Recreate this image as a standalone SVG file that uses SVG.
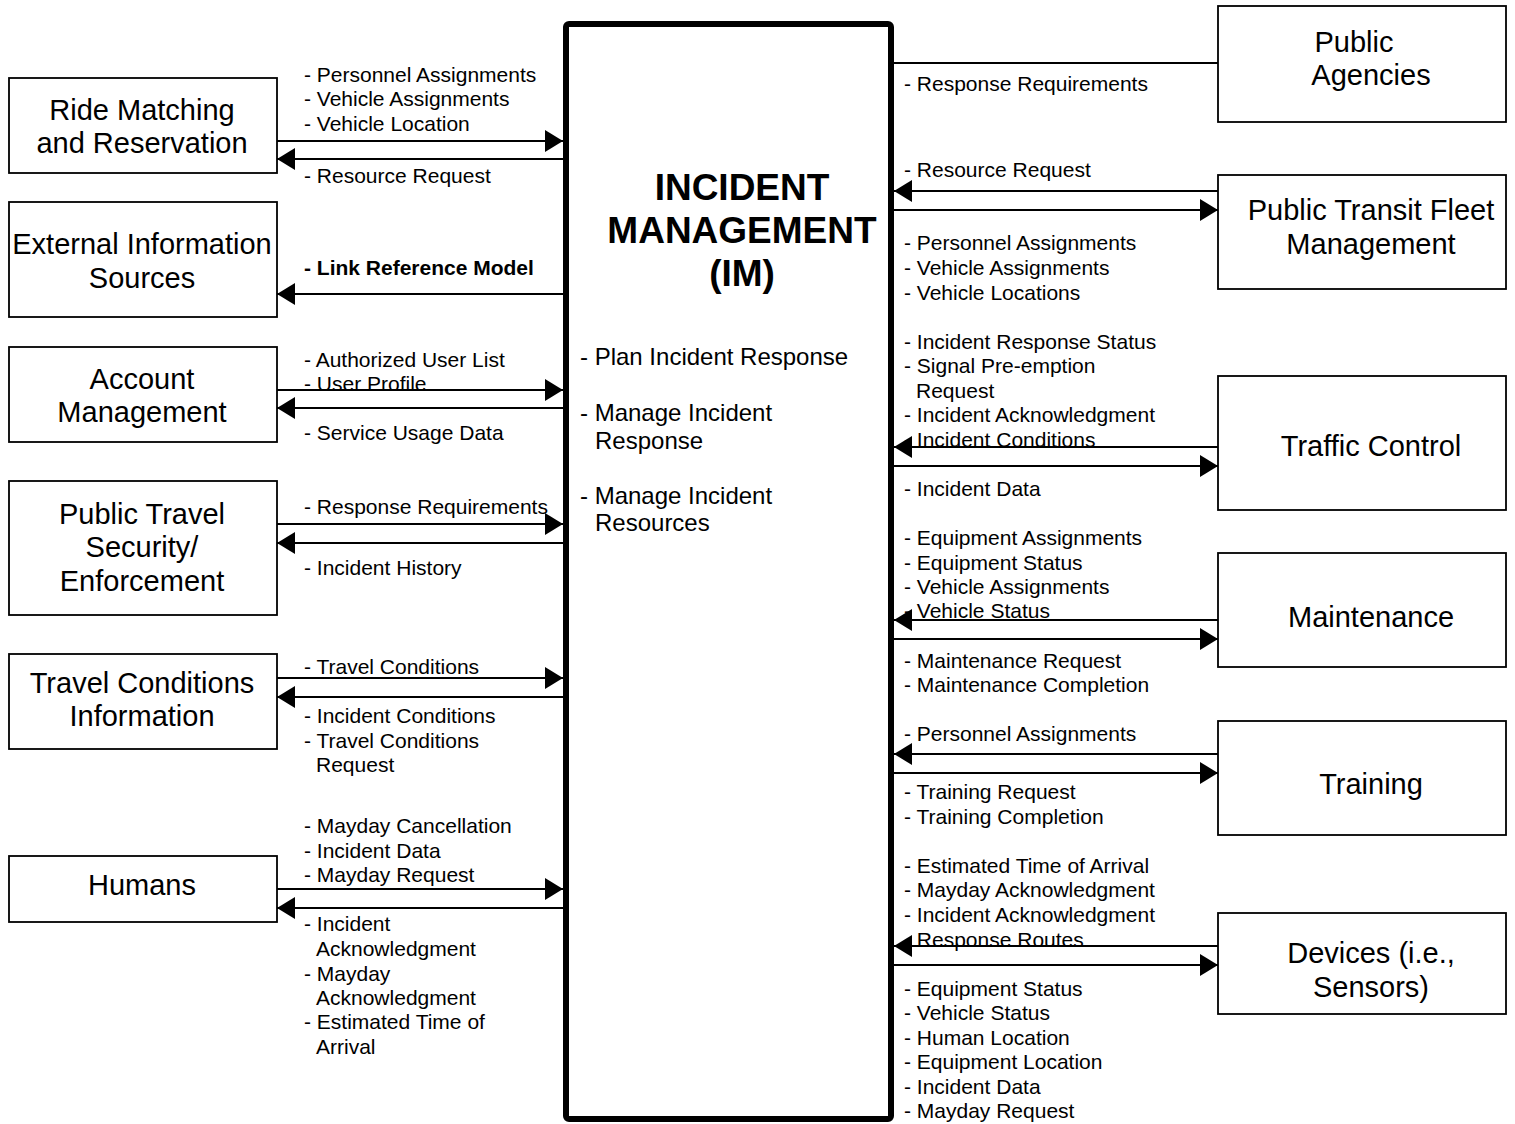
<svg xmlns="http://www.w3.org/2000/svg" width="1515" height="1124" viewBox="0 0 1515 1124">
<style>
.node{fill:#fff;stroke:#000;stroke-width:1.8}
.nt{font-family:"Liberation Sans",Arial,sans-serif;font-size:29px;fill:#000;text-anchor:middle}
.lb{font-family:"Liberation Sans",Arial,sans-serif;font-size:21px;fill:#000}
.b{font-weight:bold}
.c{fill:none;stroke:#000;stroke-width:2}
.title{font-family:"Liberation Sans",Arial,sans-serif;font-size:37px;font-weight:bold;fill:#000;text-anchor:middle}
.fn{font-family:"Liberation Sans",Arial,sans-serif;font-size:24px;fill:#000}
</style>
<defs>
<marker id="ah" markerUnits="userSpaceOnUse" markerWidth="18" markerHeight="22" refX="18" refY="11" orient="auto">
<path d="M0,0 L18,11 L0,22 z" fill="#000"/>
</marker>
</defs>
<rect width="1515" height="1124" fill="#fff"/>

<g id="im">
<rect x="566" y="24" width="325" height="1095" rx="3" fill="#fff" stroke="#000" stroke-width="6"/>
<text class="title" x="742" y="200">INCIDENT</text>
<text class="title" x="742" y="243">MANAGEMENT</text>
<text class="title" x="742" y="286">(IM)</text>
<text class="fn" x="580" y="365">- Plan Incident Response</text>
<text class="fn" x="580" y="421">- Manage Incident<tspan x="595" y="449">Response</tspan></text>
<text class="fn" x="580" y="504">- Manage Incident<tspan x="595" y="531">Resources</tspan></text>
</g>

<g id="ride-matching"><rect class="node" x="9" y="78" width="268" height="95"/><text class="nt" x="142" y="120">Ride Matching</text><text class="nt" x="142" y="153">and Reservation</text></g>
<g id="external-info"><rect class="node" x="9" y="202" width="268" height="115"/><text class="nt" x="142" y="254">External Information</text><text class="nt" x="142" y="288">Sources</text></g>
<g id="account-mgmt"><rect class="node" x="9" y="347" width="268" height="95"/><text class="nt" x="142" y="389">Account</text><text class="nt" x="142" y="422">Management</text></g>
<g id="public-travel-security"><rect class="node" x="9" y="481" width="268" height="134"/><text class="nt" x="142" y="524">Public Travel</text><text class="nt" x="142" y="557">Security/</text><text class="nt" x="142" y="591">Enforcement</text></g>
<g id="travel-conditions"><rect class="node" x="9" y="654" width="268" height="95"/><text class="nt" x="142" y="693">Travel Conditions</text><text class="nt" x="142" y="726">Information</text></g>
<g id="humans"><rect class="node" x="9" y="856" width="268" height="66"/><text class="nt" x="142" y="895">Humans</text></g>

<g id="public-agencies"><rect class="node" x="1218" y="6" width="288" height="116"/><text class="nt" x="1354" y="52">Public</text><text class="nt" x="1371" y="85">Agencies</text></g>
<g id="public-transit"><rect class="node" x="1218" y="175" width="288" height="114"/><text class="nt" x="1371" y="220">Public Transit Fleet</text><text class="nt" x="1371" y="254">Management</text></g>
<g id="traffic-control"><rect class="node" x="1218" y="376" width="288" height="134"/><text class="nt" x="1371" y="456">Traffic Control</text></g>
<g id="maintenance"><rect class="node" x="1218" y="553" width="288" height="114"/><text class="nt" x="1371" y="627">Maintenance</text></g>
<g id="training"><rect class="node" x="1218" y="721" width="288" height="114"/><text class="nt" x="1371" y="794">Training</text></g>
<g id="devices"><rect class="node" x="1218" y="913" width="288" height="101"/><text class="nt" x="1371" y="963">Devices (i.e.,</text><text class="nt" x="1371" y="997">Sensors)</text></g>

<g id="connectors">
<line class="c" x1="277" y1="141" x2="563" y2="141" marker-end="url(#ah)"/>
<line class="c" x1="563" y1="159" x2="277" y2="159" marker-end="url(#ah)"/>
<line class="c" x1="563" y1="294" x2="277" y2="294" marker-end="url(#ah)"/>
<line class="c" x1="277" y1="390" x2="563" y2="390" marker-end="url(#ah)"/>
<line class="c" x1="563" y1="408" x2="277" y2="408" marker-end="url(#ah)"/>
<line class="c" x1="277" y1="524" x2="563" y2="524" marker-end="url(#ah)"/>
<line class="c" x1="563" y1="543" x2="277" y2="543" marker-end="url(#ah)"/>
<line class="c" x1="277" y1="678" x2="563" y2="678" marker-end="url(#ah)"/>
<line class="c" x1="563" y1="697" x2="277" y2="697" marker-end="url(#ah)"/>
<line class="c" x1="277" y1="889" x2="563" y2="889" marker-end="url(#ah)"/>
<line class="c" x1="563" y1="908" x2="277" y2="908" marker-end="url(#ah)"/>

<line class="c" x1="894" y1="63" x2="1218" y2="63"/>
<line class="c" x1="1218" y1="191" x2="894" y2="191" marker-end="url(#ah)"/>
<line class="c" x1="894" y1="210" x2="1218" y2="210" marker-end="url(#ah)"/>
<line class="c" x1="1218" y1="447" x2="894" y2="447" marker-end="url(#ah)"/>
<line class="c" x1="894" y1="466" x2="1218" y2="466" marker-end="url(#ah)"/>
<line class="c" x1="1218" y1="620" x2="894" y2="620" marker-end="url(#ah)"/>
<line class="c" x1="894" y1="639" x2="1218" y2="639" marker-end="url(#ah)"/>
<line class="c" x1="1218" y1="754" x2="894" y2="754" marker-end="url(#ah)"/>
<line class="c" x1="894" y1="773" x2="1218" y2="773" marker-end="url(#ah)"/>
<line class="c" x1="1218" y1="946" x2="894" y2="946" marker-end="url(#ah)"/>
<line class="c" x1="894" y1="965" x2="1218" y2="965" marker-end="url(#ah)"/>
</g>

<g id="labels">
<text class="lb" x="304" y="82">- Personnel Assignments</text>
<text class="lb" x="304" y="106">- Vehicle Assignments</text>
<text class="lb" x="304" y="131">- Vehicle Location</text>
<text class="lb" x="304" y="183">- Resource Request</text>
<text class="lb b" x="304" y="275">- Link Reference Model</text>
<text class="lb" x="304" y="367">- Authorized User List</text>
<text class="lb" x="304" y="391">- User Profile</text>
<text class="lb" x="304" y="440">- Service Usage Data</text>
<text class="lb" x="304" y="514">- Response Requirements</text>
<text class="lb" x="304" y="575">- Incident History</text>
<text class="lb" x="304" y="674">- Travel Conditions</text>
<text class="lb" x="304" y="723">- Incident Conditions</text>
<text class="lb" x="304" y="748">- Travel Conditions</text>
<text class="lb" x="316" y="772">Request</text>
<text class="lb" x="304" y="833">- Mayday Cancellation</text>
<text class="lb" x="304" y="858">- Incident Data</text>
<text class="lb" x="304" y="882">- Mayday Request</text>
<text class="lb" x="304" y="931">- Incident</text>
<text class="lb" x="316" y="956">Acknowledgment</text>
<text class="lb" x="304" y="981">- Mayday</text>
<text class="lb" x="316" y="1005">Acknowledgment</text>
<text class="lb" x="304" y="1029">- Estimated Time of</text>
<text class="lb" x="316" y="1054">Arrival</text>

<text class="lb" x="904" y="91">- Response Requirements</text>
<text class="lb" x="904" y="177">- Resource Request</text>
<text class="lb" x="904" y="250">- Personnel Assignments</text>
<text class="lb" x="904" y="275">- Vehicle Assignments</text>
<text class="lb" x="904" y="300">- Vehicle Locations</text>
<text class="lb" x="904" y="349">- Incident Response Status</text>
<text class="lb" x="904" y="373">- Signal Pre-emption</text>
<text class="lb" x="916" y="398">Request</text>
<text class="lb" x="904" y="422">- Incident Acknowledgment</text>
<text class="lb" x="904" y="447">- Incident Conditions</text>
<text class="lb" x="904" y="496">- Incident Data</text>
<text class="lb" x="904" y="545">- Equipment Assignments</text>
<text class="lb" x="904" y="570">- Equipment Status</text>
<text class="lb" x="904" y="594">- Vehicle Assignments</text>
<text class="lb" x="904" y="618">- Vehicle Status</text>
<text class="lb" x="904" y="668">- Maintenance Request</text>
<text class="lb" x="904" y="692">- Maintenance Completion</text>
<text class="lb" x="904" y="741">- Personnel Assignments</text>
<text class="lb" x="904" y="799">- Training Request</text>
<text class="lb" x="904" y="824">- Training Completion</text>
<text class="lb" x="904" y="873">- Estimated Time of Arrival</text>
<text class="lb" x="904" y="897">- Mayday Acknowledgment</text>
<text class="lb" x="904" y="922">- Incident Acknowledgment</text>
<text class="lb" x="904" y="947">- Response Routes</text>
<text class="lb" x="904" y="996">- Equipment Status</text>
<text class="lb" x="904" y="1020">- Vehicle Status</text>
<text class="lb" x="904" y="1045">- Human Location</text>
<text class="lb" x="904" y="1069">- Equipment Location</text>
<text class="lb" x="904" y="1094">- Incident Data</text>
<text class="lb" x="904" y="1118">- Mayday Request</text>
</g>
</svg>
